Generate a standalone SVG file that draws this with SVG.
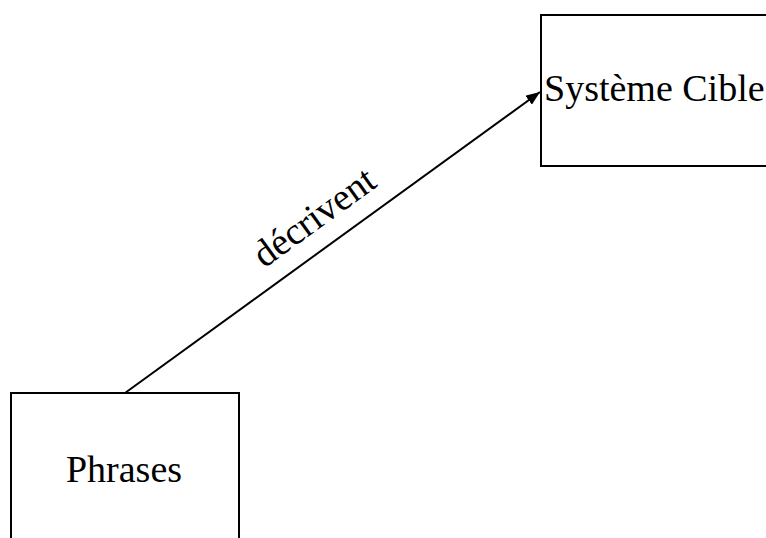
<svg xmlns="http://www.w3.org/2000/svg" width="766" height="538" viewBox="0 0 766 538">
<style>
.box{fill:#fff;stroke:#000;stroke-width:2}
.lbl{font-family:"Liberation Serif","DejaVu Serif",serif;font-size:38px;fill:#000}
.edge{stroke:#000;stroke-width:2;fill:none}
</style>
<defs>
<marker id="arr" viewBox="0 0 14 11" refX="14" refY="5.5" markerWidth="14" markerHeight="11" markerUnits="userSpaceOnUse" orient="auto">
<path d="M0,0 L14,5.5 L0,11 Z" fill="#000"/>
</marker>
</defs>
<rect width="766" height="538" fill="#fff"/>
<g id="node-systeme-cible">
<rect class="box" x="541" y="15" width="260" height="151"/>
<text class="lbl" x="544" y="101">Système Cible</text>
</g>
<g id="node-phrases">
<rect class="box" x="11" y="393" width="228" height="200"/>
<text class="lbl" x="124" y="482" text-anchor="middle">Phrases</text>
</g>
<g id="connectors">
<line class="edge" x1="125" y1="393" x2="540" y2="92" marker-end="url(#arr)"/>
<text class="lbl" transform="translate(332.5,242.5) rotate(-35.96)" x="0" y="-19" text-anchor="middle">décrivent</text>
</g>
</svg>
